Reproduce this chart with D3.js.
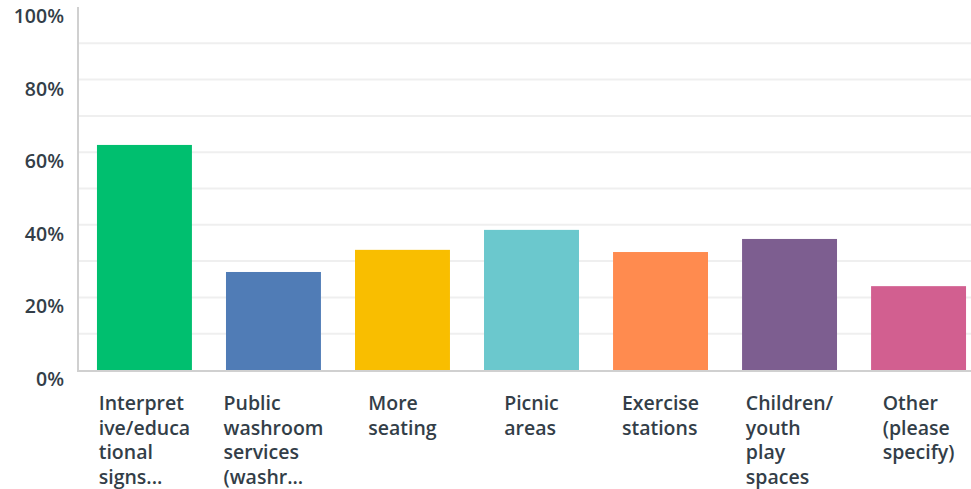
<!DOCTYPE html>
<html>
<head>
<meta charset="utf-8">
<script src="https://cdn.jsdelivr.net/npm/d3@7"></script>
<style>
  html, body { margin: 0; padding: 0; background: #fff; }
  svg text { font-family: "Open Sans", sans-serif; font-weight: 600; fill: #333e48; }
</style>
</head>
<body>
<svg id="chart" width="971" height="489"></svg>
<script>
// Answer choices (wrapped as shown under each bar)
const categories = [
  "Interpretive/educational signs...",
  "Public washroom services (washr...",
  "More seating",
  "Picnic areas",
  "Exercise stations",
  "Children/youth play spaces",
  "Other (please specify)"
];
const categoryLines = [
  ["Interpret", "ive/educa", "tional", "signs..."],
  ["Public", "washroom", "services", "(washr..."],
  ["More", "seating"],
  ["Picnic", "areas"],
  ["Exercise", "stations"],
  ["Children/", "youth", "play", "spaces"],
  ["Other", "(please", "specify)"]
];
// Share of respondents (%)
const values = [62.0, 27.0, 33.1, 38.6, 32.5, 36.1, 23.1];
const colors = ["#00bf6f", "#507cb6", "#f9be00", "#6bc8cd", "#ff8b4f", "#7d5e90", "#d25f90"];
const yTicks = [0, 20, 40, 60, 80, 100];
const gridTicks = [10, 20, 30, 40, 50, 60, 70, 80, 90];

const svg = d3.select("#chart");
const x0 = 78, yTop = 7, yBase = 370;

const y = d3.scaleLinear().domain([0, 100]).range([yBase, yTop]);
const x = d3.scaleBand()
  .domain(categories)
  .range([x0, 985])
  .paddingInner(0.264)
  .paddingOuter(0.147);

// gridlines
svg.append("g").selectAll("line")
  .data(gridTicks)
  .join("line")
  .attr("x1", x0).attr("x2", 971)
  .attr("y1", d => y(d)).attr("y2", d => y(d))
  .attr("stroke", "#efefef")
  .attr("stroke-width", 2);

// bars
svg.append("g").selectAll("rect")
  .data(values)
  .join("rect")
  .attr("x", (d, i) => x(categories[i]))
  .attr("width", x.bandwidth())
  .attr("y", d => y(d))
  .attr("height", d => yBase - y(d))
  .attr("fill", (d, i) => colors[i]);

// axis lines
svg.append("line")
  .attr("x1", x0).attr("x2", x0)
  .attr("y1", yTop).attr("y2", yBase + 1)
  .attr("stroke", "#d0d0d0").attr("stroke-width", 2);
svg.append("line")
  .attr("x1", x0 - 1).attr("x2", 971)
  .attr("y1", yBase + 1).attr("y2", yBase + 1)
  .attr("stroke", "#d0d0d0").attr("stroke-width", 2);

// y tick labels
svg.append("g").selectAll("text")
  .data(yTicks)
  .join("text")
  .attr("x", 64)
  .attr("y", d => y(d) + 16)
  .attr("text-anchor", "end")
  .attr("font-size", 19.5)
  .text(d => d + "%");

// category labels: each block is centred under its bar, lines left-aligned
const lab = svg.append("g").selectAll("text")
  .data(categoryLines)
  .join("text")
  .attr("y", 410)
  .attr("font-size", 19.5);
lab.selectAll("tspan")
  .data(d => d)
  .join("tspan")
  .attr("dy", (d, j) => j === 0 ? 0 : 24.7)
  .text(d => d);
lab.each(function (d, i) {
  const spans = d3.select(this).selectAll("tspan");
  let w = 0;
  spans.each(function () { w = Math.max(w, this.getComputedTextLength()); });
  const left = x(categories[i]) + x.bandwidth() / 2 - w / 2;
  spans.attr("x", left);
});
</script>
</body>
</html>
